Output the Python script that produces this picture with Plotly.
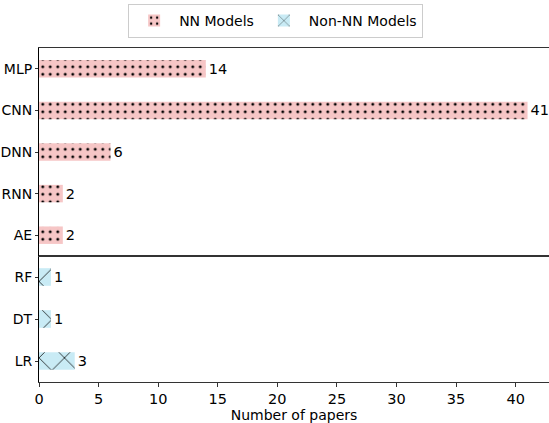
import plotly.graph_objects as go

nn_models = ["MLP", "CNN", "DNN", "RNN", "AE"]
nn_counts = [14, 41, 6, 2, 2]
other_models = ["RF", "DT", "LR"]
other_counts = [1, 1, 3]

x_ticks = [0, 5, 10, 15, 20, 25, 30, 35, 40]

PINK = "#f6c6c6"
BLUE = "#c9ebf5"
FONT = "DejaVu Sans"

fig = go.Figure()
fig.add_trace(go.Bar(
    y=nn_models, x=nn_counts, orientation="h", name="NN Models",
    marker=dict(color=PINK, line=dict(width=0),
                pattern=dict(shape=".", fgcolor="black", fgopacity=1, size=7.5,
                             solidity=0.12, bgcolor=PINK)),
    width=0.42, text=nn_counts, textposition="outside", cliponaxis=False,
    textfont=dict(size=14.5, color="black", family=FONT),
    xaxis="x2", yaxis="y2",
))
fig.add_trace(go.Bar(
    y=other_models, x=other_counts, orientation="h", name="Non-NN Models",
    marker=dict(color=BLUE, line=dict(width=0),
                pattern=dict(shape="x", fgcolor="black", fgopacity=1, size=18,
                             solidity=0.08, bgcolor=BLUE)),
    width=0.42, text=other_counts, textposition="outside", cliponaxis=False,
    textfont=dict(size=14.5, color="black", family=FONT),
    xaxis="x", yaxis="y",
))

split = 126 / 334
fig.update_layout(
    width=549, height=423,
    margin=dict(l=39, r=0, t=48, b=41, autoexpand=False),
    paper_bgcolor="white", plot_bgcolor="white",
    font=dict(family=FONT, size=14, color="black"),
    showlegend=True,
    legend=dict(orientation="h", x=0.464, y=1 + 44 / 334, xref="paper", yref="paper",
                xanchor="center", yanchor="top", itemwidth=40,
                bordercolor="#cccccc", borderwidth=1, font=dict(size=14),
                traceorder="normal"),
    bargap=0.5,
    xaxis=dict(range=[0, 42.8], anchor="y", tickvals=x_ticks, ticks="outside",
               ticklen=4, tickcolor="#333", showline=True, linecolor="#333",
               linewidth=1, mirror=True, showgrid=False, zeroline=False,
               automargin=False,
               title=dict(text="Number of papers", font=dict(size=14), standoff=2),
               tickfont=dict(size=14.5)),
    xaxis2=dict(range=[0, 42.8], anchor="y2", matches="x", showticklabels=False,
                ticks="", showline=True, linecolor="#333", linewidth=1, mirror=True,
                showgrid=False, zeroline=False, automargin=False),
    yaxis=dict(domain=[0, split], anchor="x", range=[2.5, -0.5],
               categoryorder="array", categoryarray=other_models,
               ticks="outside", ticklen=3, tickcolor="#333", showline=True,
               linecolor="black", linewidth=1, showgrid=False, zeroline=False,
               automargin=False, tickfont=dict(size=14)),
    yaxis2=dict(domain=[split, 1], anchor="x2", range=[4.5, -0.5],
                categoryorder="array", categoryarray=nn_models,
                ticks="outside", ticklen=3, tickcolor="#333", showline=True,
                linecolor="black", linewidth=1, showgrid=False, zeroline=False,
                automargin=False, tickfont=dict(size=14)),
)

fig.write_html("out.html", config={"displayModeBar": False},
               post_script="document.body.style.margin='0';")
